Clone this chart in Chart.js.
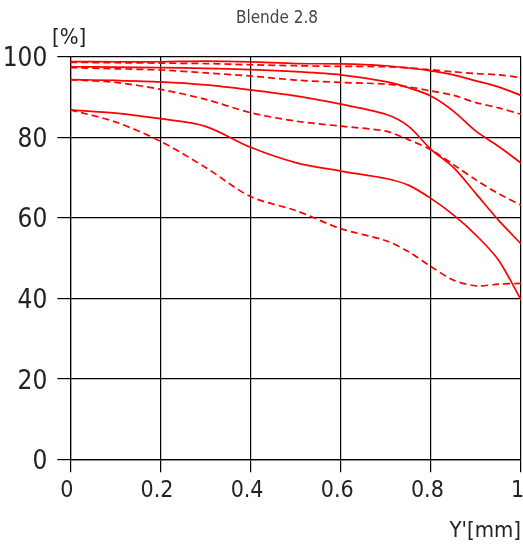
<!DOCTYPE html>
<html>
<head>
<meta charset="utf-8">
<script src="https://cdn.jsdelivr.net/npm/chart.js@4"></script>
<style>
  html, body { margin: 0; padding: 0; background: #fff; }
  #box { width: 523px; height: 547px; }
</style>
</head>
<body>
<div id="box"><canvas id="mtf" width="523" height="547"></canvas></div>
<script>
// image height Y' in mm
const positions = [0, 0.1, 0.2, 0.3, 0.4, 0.5, 0.6, 0.7, 0.75, 0.8, 0.85, 0.9, 0.95, 1];

// contrast in %, solid = sagittal, dashed = tangential
const solid1  = [98.8, 98.75, 98.75, 98.9, 98.7, 98.3, 98.2, 97.75, 97.2, 96.5, 95.5, 94, 92.5, 90.4];
const dashed1 = [98.6, 98.5, 98.4, 98.3, 98, 97.75, 97.6, 97.5, 97.2, 96.75, 96.25, 95.8, 95.5, 94.8];
const solid2  = [97.5, 97.4, 97.3, 97.1, 96.8, 96.3, 95.5, 93.8, 92.3, 90.25, 86.5, 81.5, 77.75, 73.6];
const dashed2 = [97.3, 97, 96.7, 96, 95.2, 94.2, 93.6, 93.2, 92.5, 91.5, 90.4, 88.6, 87.3, 85.7];
const solid3  = [94.3, 94.1, 93.75, 93, 91.75, 90.25, 88.2, 85.7, 82.75, 77, 72.5, 66, 59.4, 53.5];
const dashed3 = [94.3, 93.6, 91.9, 89.4, 86.1, 84, 82.75, 81.5, 79.4, 76.9, 73.2, 69.4, 66, 63.1];
const solid4  = [86.8, 86, 84.6, 82.7, 77.5, 73.7, 71.6, 69.75, 68.1, 64.8, 60.7, 55.7, 49.5, 39.6];
const dashed4 = [86.8, 83.8, 79, 72.5, 65.25, 61.8, 57.3, 54.3, 51.6, 47.9, 44.5, 43.1, 43.5, 43.7];

const xTicks = [0, 0.2, 0.4, 0.6, 0.8, 1];
const yTicks = [0, 20, 40, 60, 80, 100];

const titleText = 'Blende 2.8';
const yUnit = '[%]';
const xUnit = "Y'[mm]";

const FONT = '"DejaVu Sans Condensed", "DejaVu Sans", sans-serif';
const RED = '#ff0000';

function curve(values, dashed) {
    return {
        data: values.map((v, i) => ({ x: positions[i], y: v })),
        borderColor: RED,
        borderWidth: 1.7,
        borderDash: dashed ? [7, 4] : [],
        pointRadius: 0,
        fill: false,
        tension: 0.3
    };
}

// texts that sit outside the axes
const labelsPlugin = {
    id: 'labels',
    afterDraw(chart) {
        const ctx = chart.ctx;
        ctx.save();
        ctx.textBaseline = 'middle';
        ctx.fillStyle = '#444';
        ctx.font = '17px ' + FONT;
        ctx.textAlign = 'center';
        ctx.fillText(titleText, 277, 18.5);
        ctx.fillStyle = '#222';
        ctx.font = '22px ' + FONT;
        ctx.textAlign = 'left';
        ctx.fillText(yUnit, 52, 38.5);
        ctx.textAlign = 'right';
        ctx.fillText(xUnit, 521, 531);
        ctx.restore();
    }
};

new Chart(document.getElementById('mtf'), {
    type: 'line',
    data: {
        datasets: [
            curve(solid1, false), curve(dashed1, true),
            curve(solid2, false), curve(dashed2, true),
            curve(solid3, false), curve(dashed3, true),
            curve(solid4, false), curve(dashed4, true)
        ]
    },
    options: {
        responsive: false,
        animation: false,
        devicePixelRatio: 1,
        layout: { padding: { top: 56.7, right: 2, bottom: 0, left: 0 } },
        plugins: { legend: { display: false }, tooltip: { enabled: false }, title: { display: false } },
        scales: {
            x: {
                type: 'linear',
                min: 0,
                max: 1,
                afterBuildTicks(scale) { scale.ticks = xTicks.map(v => ({ value: v })); },
                afterFit(scale) {
                    scale.height = 87.7;
                    scale.paddingLeft = 0;
                    scale.paddingRight = 0;
                },
                grid: { color: '#000', lineWidth: 1.2, tickLength: 13 },
                border: { color: '#000', width: 1.2 },
                ticks: {
                    color: '#222',
                    font: { family: FONT, size: 23 },
                    padding: 5,
                    labelOffset: -3.5,
                    maxRotation: 0,
                    callback: v => String(v)
                }
            },
            y: {
                min: 0,
                max: 100,
                afterBuildTicks(scale) { scale.ticks = yTicks.map(v => ({ value: v })); },
                afterFit(scale) {
                    scale.width = 70.3;
                    scale.paddingTop = 0;
                    scale.paddingBottom = 0;
                },
                grid: { color: '#000', lineWidth: 1.2, tickLength: 13 },
                border: { color: '#000', width: 1.2 },
                ticks: {
                    color: '#222',
                    font: { family: FONT, size: 26 },
                    padding: 10,
                    labelOffset: 3,
                    callback: v => String(v)
                }
            }
        }
    },
    plugins: [labelsPlugin]
});
</script>
</body>
</html>
